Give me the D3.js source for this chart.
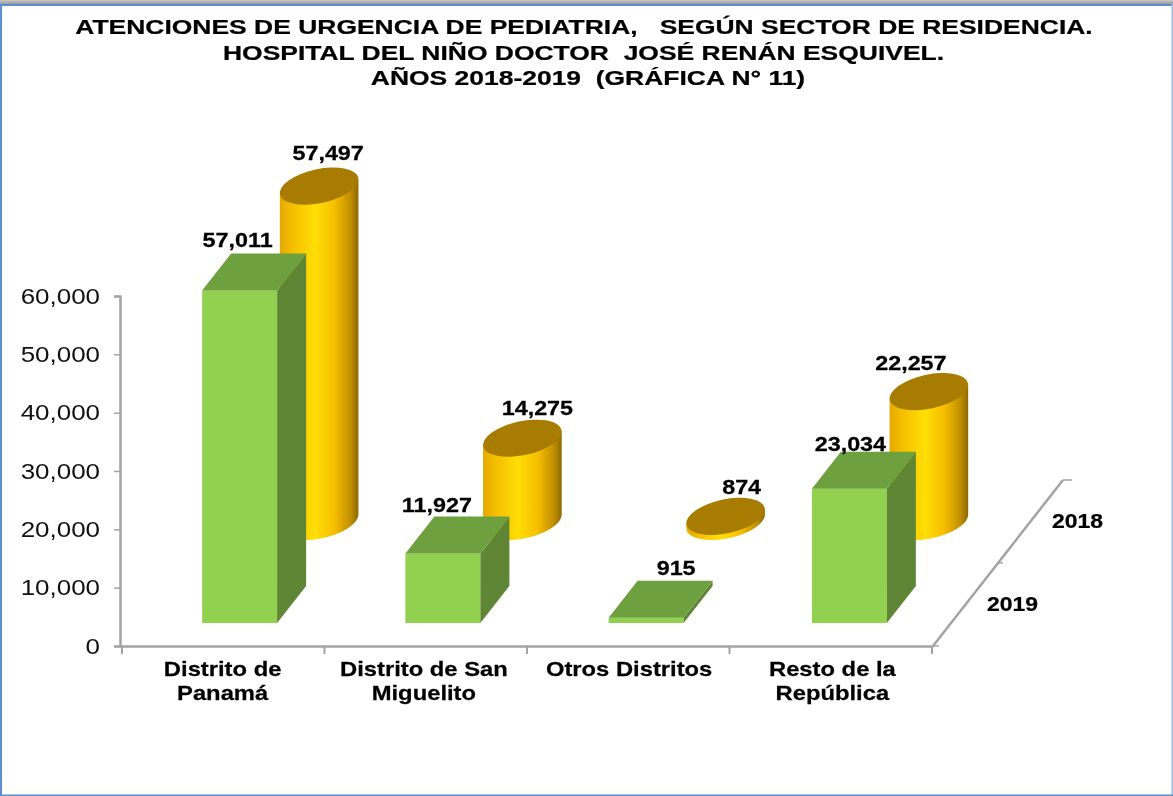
<!DOCTYPE html>
<html><head><meta charset="utf-8">
<script src="https://cdn.jsdelivr.net/npm/d3@7"></script>
<style>html,body{margin:0;padding:0;background:#fff}svg{display:block;font-family:"Liberation Sans",Arial,sans-serif}</style>
</head><body><svg id="c" width="1173" height="796"></svg>
<script>
const titleLines = ["ATENCIONES DE URGENCIA DE PEDIATRIA,   SEGÚN SECTOR DE RESIDENCIA.","HOSPITAL DEL NIÑO DOCTOR  JOSÉ RENÁN ESQUIVEL.","AÑOS 2018-2019  (GRÁFICA N° 11)"];
const categories = ["Distrito de Panamá","Distrito de San Miguelito","Otros Distritos","Resto de la República"];
const categoryLines = [["Distrito de","Panamá"],["Distrito de San","Miguelito"],["Otros Distritos"],["Resto de la","República"]];
const years = ["2019","2018"];
const values2019 = [57011,11927,915,23034];
const values2018 = [57497,14275,874,22257];
const yTicks = [0,10000,20000,30000,40000,50000,60000];
const labelNudge2019 = [[-2,0],[-6,2],[30,0],[1,5]];
const labelNudge2018 = [[9,0],[15,3],[16,4],[-18,4]];

const svg = d3.select("#c");
const W=1173,H=796;
const x0=120,x1=933,y0=646,yTop=296, depthX=130, depthY=166;
const x = d3.scaleBand().domain(categories).range([x0,x1]);
const xTick = d3.scaleBand().domain(categories).range([122,932]);
const y = d3.scaleLinear().domain([0,60000]).range([y0,yTop]);
const z = d3.scalePoint().domain(years).range([0,1]).padding(0.5);
const dx = f=>depthX*f, dy = f=>-depthY*f;
const h = v=>y(0)-y(v);
const stretch=1.14, fs=20.5;

const defs = svg.append("defs");
const sh = defs.append("linearGradient").attr("id","shade").attr("x1",0).attr("x2",0).attr("y1",0).attr("y2",1);
sh.append("stop").attr("offset",0).attr("stop-color","#c9c9c9");
sh.append("stop").attr("offset",1).attr("stop-color","#9a9a9a");
const g = defs.append("linearGradient").attr("id","cyl").attr("gradientUnits","objectBoundingBox").attr("x1",0).attr("x2",1).attr("y1",0).attr("y2",0);
[[0,"#e2a800"],[0.14,"#f4bc00"],[0.45,"#ffdf05"],[0.7,"#f6bd00"],[0.9,"#bf8f00"],[1,"#8c6a00"]].forEach(s=>g.append("stop").attr("offset",s[0]).attr("stop-color",s[1]));

svg.append("rect").attr("x",0).attr("y",0).attr("width",W).attr("height",4).attr("fill","url(#shade)");
svg.append("rect").attr("x",0).attr("y",4).attr("width",W).attr("height",2).attr("fill","#5b8fd0");
svg.append("rect").attr("x",0).attr("y",4).attr("width",2).attr("height",H-4).attr("fill","#5b8fd0");
svg.append("rect").attr("x",W-1.5).attr("y",4).attr("width",1.5).attr("height",H-4).attr("fill","#9dbbe0");
svg.append("rect").attr("x",0).attr("y",H-1.5).attr("width",W).attr("height",1.5).attr("fill","#5b8fd0");

// title
const title=svg.append("g").attr("font-weight","bold").attr("font-size",21).attr("fill","#000").attr("stroke","#000").attr("stroke-width",0.25).attr("text-anchor","middle");
titleLines.forEach((t,i)=>{
  title.append("text").attr("xml:space","preserve").style("white-space","pre").text(t)
    .attr("transform",`translate(${[584,583.5,588][i]},${34+i*26-(i==2?1:0)}) scale(1.26,1)`);
});

// axes
const axisCol="#a3a3a3";
const ay = svg.append("g").attr("transform",`translate(${x0},0)`).call(d3.axisLeft(y).tickValues(yTicks).tickFormat(d3.format(",")).tickSize(6).tickPadding(14));
const ax = svg.append("g").attr("transform",`translate(0,${y0})`).call(d3.axisBottom(x).tickSize(0).tickFormat(""));
[ay,ax].forEach(a=>{a.select(".domain").attr("stroke",axisCol).attr("stroke-width",2.5);a.selectAll("line").attr("stroke",axisCol).attr("stroke-width",1.5);});
ay.selectAll("text").attr("font-size",22).attr("font-family","Liberation Sans").attr("fill","#111").attr("text-anchor","end").each(function(){
  d3.select(this).attr("transform",`translate(-20,0) scale(1.18,1) translate(20,0)`);
});
svg.append("g").selectAll("line").data([...categories.map(c=>xTick(c)),932]).join("line")
  .attr("x1",d=>d).attr("x2",d=>d).attr("y1",y0).attr("y2",y0+8).attr("stroke",axisCol).attr("stroke-width",2);

// depth axis
const da=svg.append("g");
da.append("line").attr("x1",x1).attr("y1",y0).attr("x2",x1+dx(1)).attr("y2",y0+dy(1)).attr("stroke",axisCol).attr("stroke-width",2.5);
[0,0.5,1].forEach((f,i)=>da.append("line").attr("x1",x1+dx(f)).attr("x2",x1+dx(f)+[6,5,9][i]).attr("y1",y0+dy(f)).attr("y2",y0+dy(f)).attr("stroke",axisCol).attr("stroke-width",1.5));
da.selectAll("text").data(years).join("text").attr("font-weight","bold").attr("font-size",fs).attr("text-anchor","middle").attr("stroke","#000").attr("stroke-width",0.25).text(d=>d)
  .attr("transform",d=>`translate(${x1+dx(z(d))+47},${y0+dy(z(d))+6}) scale(1.12,1)`);

// cylinders 2018 (back row)
const rx=40, ry=17, tilt=-12, W2=39.3, off=7;
const cf=z("2018");
const cx=c=>x(c)+x.bandwidth()/2+dx(cf);
const cb=y0+dy(cf);
const back=svg.append("g").selectAll("g").data(categories.map((c,i)=>({c,v:values2018[i],i}))).join("g");
back.append("path").attr("fill","url(#cyl)").attr("d",d=>{
  const X=cx(d.c),T=cb-h(d.v),B=cb;
  const arc=`A${rx} ${ry} ${tilt} 0 0`;
  return `M${X-W2} ${T+off}L${X-W2} ${B+off}${arc} ${X+W2} ${B-off}L${X+W2} ${T-off}Z`;
});
back.append("ellipse").attr("rx",rx).attr("ry",ry).attr("fill","#a87c00")
  .attr("transform",d=>`translate(${cx(d.c)},${cb-h(d.v)}) rotate(${tilt})`);
back.append("text").attr("font-weight","bold").attr("font-size",fs).attr("text-anchor","middle").attr("fill","#000").attr("stroke","#000").attr("stroke-width",0.25)
  .text(d=>d3.format(",")(d.v))
  .attr("transform",d=>`translate(${cx(d.c)+labelNudge2018[d.i][0]},${cb-h(d.v)-26+labelNudge2018[d.i][1]}) scale(${stretch},1)`);

// bars 2019 (front row)
const depth=0.223, bw=75;
const ff=z("2019")-depth/2, fb=z("2019")+depth/2;
const bx=c=>x(c)+x.bandwidth()/2+dx(ff)-bw/2;
const fy=y0+dy(ff), ox=dx(fb)-dx(ff), oy=dy(fb)-dy(ff);
const front=svg.append("g").selectAll("g").data(categories.map((c,i)=>({c,v:values2019[i],i}))).join("g");
front.append("rect").attr("fill","#92d050").attr("x",d=>bx(d.c)).attr("width",bw).attr("y",d=>fy-h(d.v)).attr("height",d=>h(d.v));
front.append("path").attr("fill","#5f8635").attr("d",d=>{
  const X=bx(d.c)+bw,T=fy-h(d.v);
  return `M${X} ${T}L${X+ox} ${T+oy}L${X+ox} ${fy+oy}L${X} ${fy}Z`;
});
front.append("path").attr("fill","#6fa03f").attr("d",d=>{
  const X=bx(d.c),T=fy-h(d.v);
  return `M${X} ${T}L${X+ox} ${T+oy}L${X+bw+ox} ${T+oy}L${X+bw} ${T}Z`;
});
front.append("text").attr("font-weight","bold").attr("font-size",fs).attr("text-anchor","middle").attr("fill","#000").attr("stroke","#000").attr("stroke-width",0.25)
  .text(d=>d3.format(",")(d.v))
  .attr("transform",d=>`translate(${bx(d.c)+bw/2+labelNudge2019[d.i][0]},${fy-h(d.v)+oy-6+labelNudge2019[d.i][1]}) scale(${stretch},1)`);

// category labels
const cl=svg.append("g").attr("font-weight","bold").attr("font-size",fs).attr("text-anchor","middle").attr("fill","#000").attr("stroke","#000").attr("stroke-width",0.25);
categories.forEach((c,i)=>categoryLines[i].forEach((t,j)=>{
  cl.append("text").text(t).attr("transform",`translate(${x(c)+x.bandwidth()/2+(i==1?-1:1)},${676+j*24}) scale(1.16,1)`);
}));
svg.style("filter","blur(0.4px)");
</script></body></html>
